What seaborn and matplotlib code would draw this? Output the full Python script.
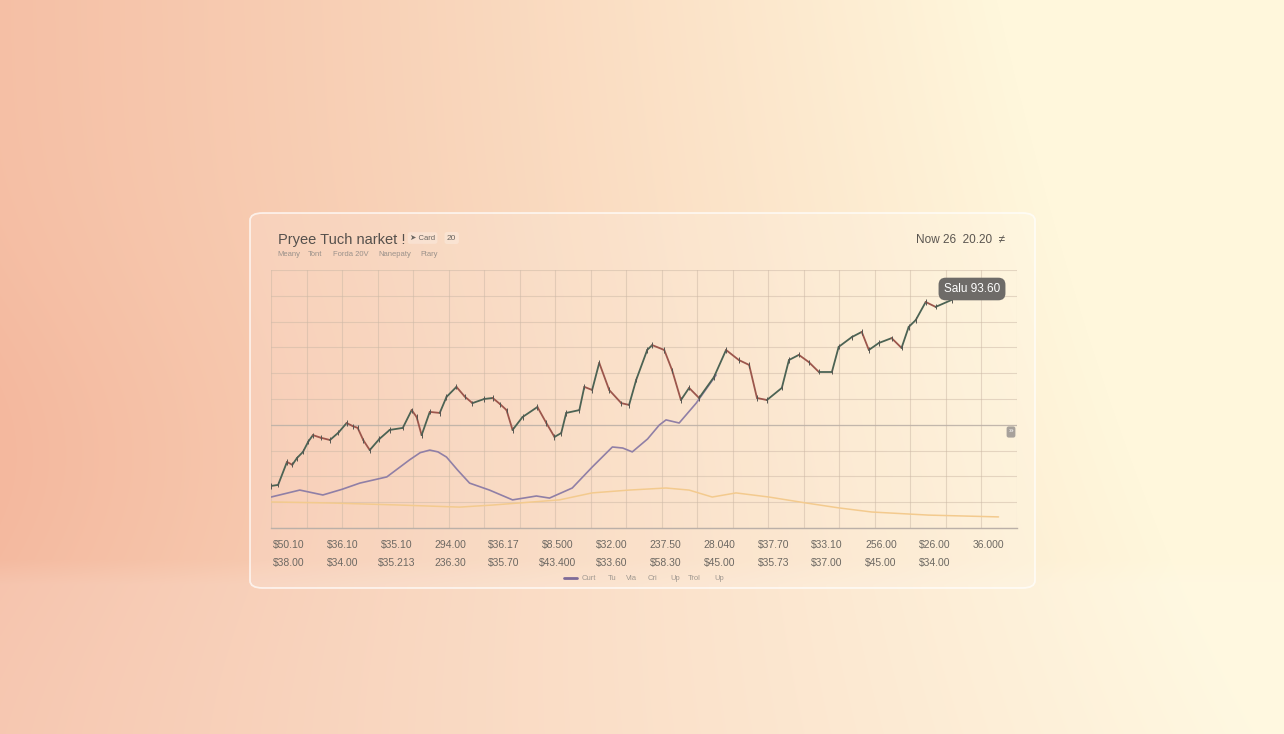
import numpy as np
import pandas as pd
import seaborn as sns
import matplotlib
matplotlib.use("Agg")
import matplotlib.pyplot as plt
from matplotlib.patches import FancyBboxPatch
from matplotlib.lines import Line2D

# price trace (x in grid columns, y in grid rows)
price_x = [0.0, 0.20, 0.45, 0.60, 0.73, 0.90, 1.05, 1.18, 1.40, 1.66, 1.90, 2.13, 2.30, 2.44,
           2.60, 2.78, 3.05, 3.34, 3.71, 3.96, 4.10, 4.24, 4.47, 4.75, 4.94, 5.22, 5.45,
           5.67, 6.00, 6.24, 6.45, 6.63, 6.80, 7.08, 7.50, 7.75, 7.98, 8.17, 8.31, 8.68,
           8.82, 9.04, 9.24, 9.52, 9.86, 10.08, 10.28, 10.59, 10.73, 11.07, 11.29, 11.54,
           11.77, 12.05, 12.47, 12.81, 13.17, 13.46, 13.68, 13.96, 14.38, 14.58, 14.86,
           15.14, 15.42, 15.79, 15.98, 16.35, 16.63, 16.83, 17.11, 17.47, 17.75, 17.95,
           18.15, 18.43, 18.71, 19.16]
price_y = [1.63, 1.67, 2.56, 2.45, 2.71, 2.95, 3.35, 3.60, 3.50, 3.41, 3.70, 4.07, 3.95, 3.88,
           3.40, 3.02, 3.45, 3.80, 3.88, 4.57, 4.30, 3.60, 4.50, 4.46, 5.08, 5.47, 5.10,
           4.84, 5.00, 5.04, 4.80, 4.57, 3.80, 4.30, 4.69, 4.07, 3.53, 3.68, 4.46, 4.57,
           5.47, 5.35, 6.40, 5.35, 4.84, 4.77, 5.74, 6.90, 7.09, 6.90, 6.12, 4.96,
           5.43, 5.04, 5.85, 6.90, 6.51, 6.32, 5.04, 4.96, 5.43, 6.51, 6.71,
           6.43, 6.05, 6.05, 7.02, 7.40, 7.60, 6.90, 7.17, 7.36, 6.98, 7.79,
           8.06, 8.76, 8.57, 8.84]

# slow average (purple) and volume-ish line (orange)
avg_x = [0.0, 0.81, 1.46, 2.00, 2.50, 3.26, 3.90, 4.20, 4.47, 4.70, 4.94, 5.25, 5.59, 6.15,
         6.80, 7.47, 7.84, 8.48, 9.04, 9.61, 9.90, 10.17, 10.60, 10.93, 11.12, 11.49, 11.97,
         12.53]
avg_y = [1.20, 1.47, 1.28, 1.50, 1.74, 1.98, 2.64, 2.92, 3.02, 2.95, 2.75, 2.25, 1.74, 1.47,
         1.09, 1.24, 1.16, 1.55, 2.36, 3.14, 3.10, 2.95, 3.45, 3.99, 4.19, 4.07, 4.84,
         5.93]
vol_x = [0.0, 1.66, 3.62, 5.31, 6.24, 8.12, 9.04, 10.08, 11.12, 11.77, 12.42, 13.09, 14.02,
         15.06, 15.98, 16.91, 18.51, 20.48]
vol_y = [1.01, 0.97, 0.89, 0.81, 0.89, 1.09, 1.36, 1.47, 1.55, 1.47, 1.20, 1.36, 1.20,
         0.97, 0.78, 0.62, 0.50, 0.43]

row1_labels = ["$50.10", "$36.10", "$35.10", "294.00", "$36.17", "$8.500", "$32.00",
               "237.50", "28.040", "$37.70", "$33.10", "256.00", "$26.00", "36.000"]
row2_labels = ["$38.00", "$34.00", "$35.213", "236.30", "$35.70", "$43.400", "$33.60",
               "$58.30", "$45.00", "$35.73", "$37.00", "$45.00", "$34.00"]
legend_labels = ["Curt", "Tu", "Via", "Cri", "Up", "Trol", "Up"]
title = "Pryee Tuch narket !"
subtitle_items = ["Meany", "Tont", "Forda 20V", "Nanepaty", "Ftary"]
date_text = "Now 26  20.20  \u2260"
badge_text = "Salu 93.60"

sns.set_theme(style="white")
plt.rcParams['font.family'] = ['Liberation Sans', 'DejaVu Sans']

W, H = 1284, 734
fig = plt.figure(figsize=(W / 100, H / 100), dpi=100)

# background wash
bg = fig.add_axes([0, 0, 1, 1])
xx, yy = np.meshgrid(np.linspace(0, 1, W), np.linspace(0, 1, H))
left_c = np.array([244, 184, 158]) / 255
right_c = np.array([255, 247, 220]) / 255
t = np.clip(0.9 * xx + 0.12 + 0.3 * (1 - yy) * xx ** 2 - 0.12 * np.exp(-((yy - 0.62) / 0.25) ** 2) * (1 - xx) ** 3, 0, 1)[..., None]
img = left_c * (1 - t) + right_c * t
floor = np.clip((yy - 560 / H) / (25 / H), 0, 1)[..., None]
img = img * (1 - 0.14 * floor) + 0.14 * floor
img = np.clip(img, 0, 1)
bg.imshow(img, aspect="auto", extent=[0, 1, 0, 1], origin="upper")
bg.set_axis_off()

# glass card
card = FancyBboxPatch((250 / W, 1 - 588 / H), 785 / W, 375 / H,
                      boxstyle="round,pad=0,rounding_size=0.01",
                      transform=fig.transFigure, facecolor=(1, 1, 1, 0.14),
                      edgecolor=(1, 1, 1, 0.7), linewidth=1.3)
fig.add_artist(card)

ax = fig.add_axes([271 / W, 1 - 528 / H, 746 / W, 258 / H])
ax.set_facecolor("none")
ax.set_xlim(0, 21)
ax.set_ylim(0, 10)
ax.set_xticks(range(0, 22))
ax.set_yticks(range(0, 11))
ax.grid(True, color="#c4ad98", alpha=0.5, linewidth=0.8)
ax.tick_params(length=0, labelbottom=False, labelleft=False)
for s in ["top", "right", "left"]:
    ax.spines[s].set_visible(False)
ax.spines["bottom"].set_color("#b0a49a")
ax.spines["bottom"].set_linewidth(1.0)
ax.axhline(4, color="#b0a49a", linewidth=0.9, alpha=0.8)

sns.lineplot(x=vol_x, y=vol_y, ax=ax, color="#f2c27c", linewidth=1.1, sort=False)
sns.lineplot(x=avg_x, y=avg_y, ax=ax, color="#7e6b98", linewidth=1.2, sort=False)

df = pd.DataFrame({"x": price_x, "y": price_y})
for i in range(len(df) - 1):
    seg = df.iloc[i:i + 2]
    col = "#2f4a38" if seg.y.iloc[1] >= seg.y.iloc[0] else "#8c3b2f"
    ax.plot(seg.x, seg.y, color=col, linewidth=1.3, solid_capstyle="round")
ax.vlines(df.x, df.y - 0.1, df.y + 0.1, color="#3b3b36", linewidth=0.7)

# x labels (two rows)
pos1 = np.linspace(0.5, 20.2, len(row1_labels))
for p, lab in zip(pos1, row1_labels):
    ax.text(p, -0.045, lab, transform=ax.get_xaxis_transform(), ha="center", va="top",
            fontsize=7.5, color="#555049")
for p, lab in zip(pos1, row2_labels):
    ax.text(p, -0.115, lab, transform=ax.get_xaxis_transform(), ha="center", va="top",
            fontsize=7.5, color="#555049")

# header
fig.text(278 / W, 1 - 240 / H, title, fontsize=10.5, color="#55504c", va="center")
fig.text(410 / W, 1 - 238 / H, "\u27a4 Card", fontsize=5.5, color="#6a6560", va="center",
         bbox=dict(boxstyle="round,pad=0.3", fc=(1, 1, 1, 0.25), ec="none"))
fig.text(447 / W, 1 - 238 / H, "20", fontsize=6, color="#6a6560", va="center",
         bbox=dict(boxstyle="round,pad=0.3", fc=(1, 1, 1, 0.25), ec="none"))
sub_px = [277, 308, 333, 378, 420]
for sx, item in zip(sub_px, subtitle_items):
    fig.text(sx / W, 1 - 254 / H, item, fontsize=5.5, color="#9a918a", va="center")
fig.text(1005 / W, 1 - 240 / H, date_text, fontsize=8.5, color="#5a5550", va="center", ha="right")

# badge
fig.text(972 / W, 1 - 289 / H, badge_text, fontsize=8.5, color="white", va="center", ha="center",
         bbox=dict(boxstyle="round,pad=0.45,rounding_size=0.6", fc="#6e6b68", ec="none"))
fig.text(1011 / W, 1 - 432 / H, "\u00bb", fontsize=6, color="white", va="center", ha="center",
         bbox=dict(boxstyle="round,pad=0.25", fc="#a7a19b", ec="none"))

# legend
fig.add_artist(Line2D([564 / W, 577 / W], [1 - 578 / H, 1 - 578 / H], color="#7e6b98",
                      linewidth=2, transform=fig.transFigure))
lx = 582
for lab in legend_labels:
    fig.text(lx / W, 1 - 578 / H, lab, fontsize=5.5, color="#a09890", va="center")
    lx += len(lab) * 4 + 10

fig.savefig("out.png", dpi=100)
